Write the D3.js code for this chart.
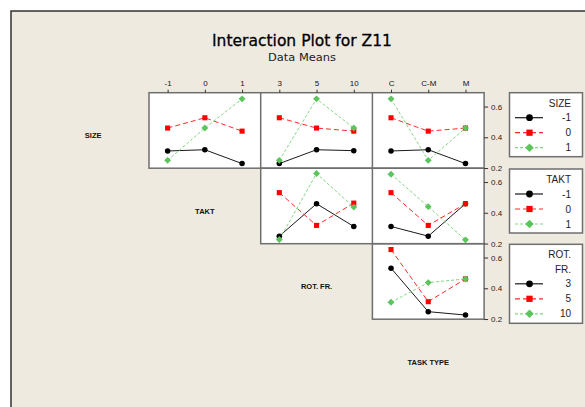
<!DOCTYPE html>
<html><head><meta charset="utf-8">
<script src="https://cdn.jsdelivr.net/npm/d3@7"></script>
<style>
html,body{margin:0;padding:0;background:#fff;}
svg{display:block;}
</style></head>
<body>
<svg id="chart" width="585" height="407"></svg>
<script>
// ---- data ----
const factorNames = ["SIZE", "TAKT", "ROT. FR.", "TASK TYPE"];
const sizeLevels = ["-1", "0", "1"];
const taktLevels = ["-1", "0", "1"];
const rotLevels = ["3", "5", "10"];
const taskLevels = ["C", "C-M", "M"];
const yTicks = [0.2, 0.4, 0.6];
// means: rows = series level (row factor), columns = x level (column factor)
const sizeXtakt = [[0.311, 0.319, 0.229], [0.460, 0.527, 0.440], [0.250, 0.460, 0.650]];
const sizeXrot  = [[0.229, 0.319, 0.313], [0.527, 0.460, 0.440], [0.250, 0.650, 0.460]];
const sizeXtask = [[0.311, 0.319, 0.229], [0.527, 0.440, 0.460], [0.650, 0.250, 0.460]];
const taktXrot  = [[0.248, 0.459, 0.311], [0.531, 0.318, 0.463], [0.226, 0.655, 0.437]];
const taktXtask = [[0.311, 0.248, 0.459], [0.531, 0.318, 0.459], [0.651, 0.440, 0.224]];
const rotXtask  = [[0.531, 0.248, 0.226], [0.652, 0.313, 0.461], [0.309, 0.437, 0.461]];

const levels = [sizeLevels, taktLevels, rotLevels, taskLevels];
const panels = [
  {row: 0, col: 1, data: sizeXtakt},
  {row: 0, col: 2, data: sizeXrot},
  {row: 0, col: 3, data: sizeXtask},
  {row: 1, col: 2, data: taktXrot},
  {row: 1, col: 3, data: taktXtask},
  {row: 2, col: 3, data: rotXtask}
];

// ---- layout ----
const svg = d3.select("#chart");
const bg = "#EEEAE0";
svg.append("rect").attr("x", 0).attr("y", 0).attr("width", 585).attr("height", 407).attr("fill", "#fff");
svg.append("rect").attr("x", 11).attr("y", 11).attr("width", 590).attr("height", 410)
  .attr("fill", bg).attr("stroke", "#333").attr("stroke-width", 1.5);

const x0 = 149, cw = 111.7, y0 = 92.7, rh = 75.5;
const colX = c => x0 + (c - 1) * cw;   // column index 1..3 -> left edge
const rowY = r => y0 + r * rh;

const yScale = d3.scaleLinear().domain([0.199, 0.69]).range([rh, 0]);

const styles = [
  {stroke: "#1a1a1a", dash: null, fill: "#000", sym: d3.symbolCircle, size: 24, rot: 0},
  {stroke: "#ff2a2a", dash: "5,3", fill: "#ff0000", sym: d3.symbolSquare, size: 26, rot: 0},
  {stroke: "#86d486", dash: "3,2", fill: "#5cc45c", sym: d3.symbolSquare, size: 24, rot: 45}
];

const font = "'Liberation Sans', Arial, sans-serif";

// title
svg.append("text").attr("x", 302).attr("y", 46).attr("text-anchor", "middle")
  .attr("font-family", "'DejaVu Sans', Tahoma, sans-serif").attr("font-size", 16)
  .attr("textLength", 180).attr("lengthAdjust", "spacingAndGlyphs")
  .attr("fill", "#000").attr("stroke", "#000").attr("stroke-width", 0.3)
  .text("Interaction Plot for Z11");
svg.append("text").attr("x", 302).attr("y", 61).attr("text-anchor", "middle")
  .attr("font-family", "'DejaVu Sans', Tahoma, sans-serif").attr("font-size", 11)
  .attr("textLength", 68).attr("lengthAdjust", "spacingAndGlyphs")
  .attr("fill", "#222").text("Data Means");

// panels
panels.forEach(p => {
  const g = svg.append("g").attr("transform", `translate(${colX(p.col)},${rowY(p.row)})`);
  g.append("rect").attr("width", cw).attr("height", rh).attr("fill", "#fff");
  const xs = d3.scalePoint().domain(levels[p.col]).range([0, cw]).padding(0.5);
  p.data.forEach((vals, si) => {
    const st = styles[si];
    const pts = vals.map((v, i) => [xs(levels[p.col][i]), yScale(v)]);
    g.append("path").attr("d", d3.line()(pts)).attr("fill", "none")
      .attr("stroke", st.stroke).attr("stroke-width", 1)
      .attr("stroke-dasharray", st.dash);
  });
  p.data.forEach((vals, si) => {
    const st = styles[si];
    g.selectAll(null).data(vals).enter().append("path")
      .attr("transform", (v, i) => `translate(${xs(levels[p.col][i])},${yScale(v)}) rotate(${st.rot})`)
      .attr("d", d3.symbol().type(st.sym).size(st.size)())
      .attr("fill", st.fill);
  });
});

// panel borders
const border = "#6f6f6f";
[0, 1, 2].forEach(r => {
  const left = colX(r + 1), right = colX(4);
  svg.append("rect").attr("x", left).attr("y", rowY(r)).attr("width", right - left).attr("height", rh)
    .attr("fill", "none").attr("stroke", border).attr("stroke-width", 1.5);
  for (let c = r + 2; c <= 3; c++) {
    svg.append("line").attr("x1", colX(c)).attr("x2", colX(c)).attr("y1", rowY(r)).attr("y2", rowY(r) + rh)
      .attr("stroke", border).attr("stroke-width", 1.5);
  }
});

// top axes (row 0)
[1, 2, 3].forEach(c => {
  const xs = d3.scalePoint().domain(levels[c]).range([colX(c), colX(c) + cw]).padding(0.5);
  const ax = svg.append("g").attr("transform", `translate(0,${y0})`)
    .call(d3.axisTop(xs).tickSize(3).tickPadding(4));
  ax.select(".domain").remove();
  ax.selectAll("line").attr("stroke", "#333");
  ax.selectAll("text").attr("font-family", font).attr("font-size", 8).attr("fill", "#111");
});

// right axes per row
[0, 1, 2].forEach(r => {
  const ys = d3.scaleLinear().domain(yScale.domain()).range([rowY(r) + rh, rowY(r)]);
  const ax = svg.append("g").attr("transform", `translate(${colX(4)},0)`)
    .call(d3.axisRight(ys).tickValues(yTicks).tickFormat(d3.format(".1f")).tickSize(4).tickPadding(3));
  ax.select(".domain").remove();
  ax.selectAll("line").attr("stroke", "#333");
  ax.selectAll("text").attr("font-family", font).attr("font-size", 8).attr("fill", "#222");
});

// diagonal factor labels
factorNames.forEach((name, i) => {
  svg.append("text").attr("x", colX(i) + cw / 2).attr("y", rowY(i) + rh / 2 + 8)
    .attr("text-anchor", "middle").attr("font-family", font).attr("font-weight", "bold")
    .attr("font-size", 7.5).attr("fill", "#111").text(name);
});

// legends
const legendTitles = [["SIZE"], ["TAKT"], ["ROT.", "FR."]];
const legX = 509.5, legW = 73;
const legTops = [92.7, 169, 244.3];
const legHeights = [64, 64, 79];
legendTitles.forEach((title, r) => {
  const g = svg.append("g").attr("transform", `translate(${legX},${legTops[r]})`);
  g.append("rect").attr("width", legW).attr("height", legHeights[r]).attr("fill", "#fff")
    .attr("stroke", border).attr("stroke-width", 1.5);
  title.forEach((t, k) => {
    g.append("text").attr("x", 61.5).attr("y", 14 + k * 14.5).attr("text-anchor", "end")
      .attr("font-family", font).attr("font-size", 10).attr("fill", "#222").text(t);
  });
  const startY = 25 + (title.length - 1) * 14.5;
  levels[r].forEach((lv, si) => {
    const st = styles[si];
    const yy = startY + si * 15;
    g.append("line").attr("x1", 5.5).attr("x2", 33.5).attr("y1", yy).attr("y2", yy)
      .attr("stroke", st.stroke).attr("stroke-width", 1.2).attr("stroke-dasharray", st.dash);
    g.append("path").attr("transform", `translate(20,${yy}) rotate(${st.rot})`)
      .attr("d", d3.symbol().type(st.sym).size(st.size * 1.5)()).attr("fill", st.fill);
    g.append("text").attr("x", 61.5).attr("y", yy + 3.5).attr("text-anchor", "end")
      .attr("font-family", font).attr("font-size", 10).attr("fill", "#222").text(lv);
  });
});
</script>
</body></html>
